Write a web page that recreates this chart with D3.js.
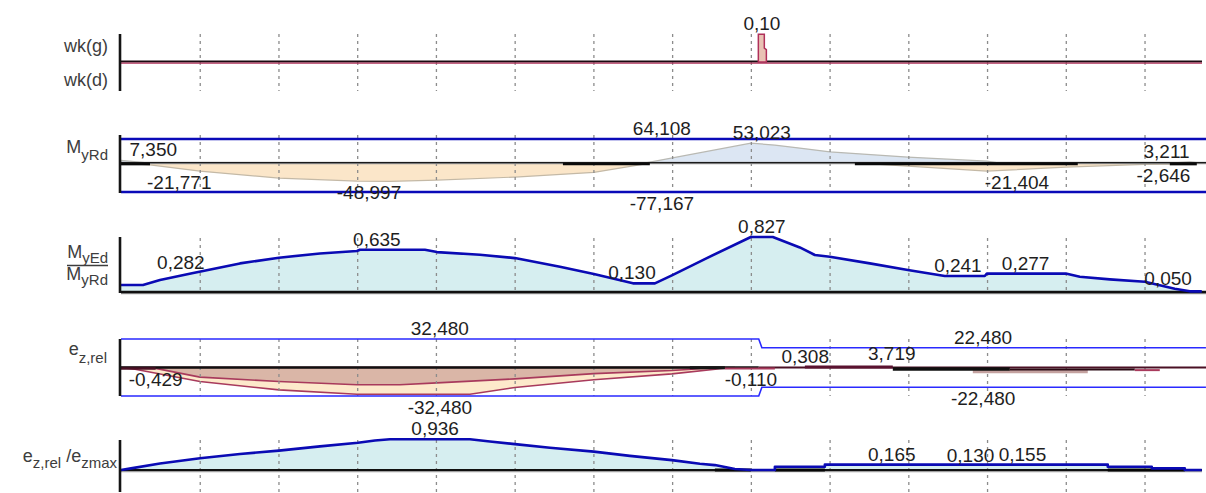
<!DOCTYPE html>
<html>
<head>
<meta charset="utf-8">
<script src="https://cdn.jsdelivr.net/npm/d3@7"></script>
<style>
  html, body { margin: 0; padding: 0; background: #fff; }
  svg { display: block; font-family: "Liberation Sans", Arial, sans-serif; }
</style>
</head>
<body>
<svg id="chart" width="1206" height="493"></svg>
<script>
// ---------- beam stations (m) ----------
const beamLength = 13.73;
const gridStations = d3.range(1, 14);

// ---------- wk(g) / wk(d) ----------
const wkStation = [8.095, 8.095, 8.171, 8.171, 8.197, 8.197];
const wkValue   = [0, 0.10, 0.10, 0.05, 0.045, 0];
const wkLabelStation = [8.14];
const wkLabelValue   = [0.10];

// ---------- MyRd : resistance limits and moment envelope ----------
const myRdPos = 64.108;
const myRdNeg = -77.167;
const mMaxStation = [0, 0.368, 6.65, 8.0, 8.305, 8.622, 9.003, 9.994, 10.997, 11.162, 13.321, 13.575, 13.727];
const mMaxValue   = [7.35, 0, 0, 53.023, 48, 40, 30, 16, 5, 0, 0, 3.211, 0];
const mMinStation = [0, 0.368, 1.003, 2.006, 2.997, 3.416, 4.013, 5.003, 6.006, 6.717, 9.384, 9.994, 10.997, 12.0, 13.003, 13.575, 13.727];
const mMinValue   = [0, -5, -21.771, -40, -48, -48.997, -45.5, -37.4, -25, 0, 0, -8, -21.404, -11, -3.5, -2.646, 0];
const mZeroStart  = [0, 5.613, 9.321, 13.321];
const mZeroEnd    = [0.368, 6.717, 12.152, 13.664];
const mLabelStation = [0.41, 0.74, 3.15, 6.87, 8.14, 6.87, 13.28, 13.24, 11.38];
const mLabelValue   = [7.35, -21.771, -48.997, 64.108, 53.023, -77.167, 3.211, -2.646, -21.404];

// ---------- MyEd / MyRd ----------
const ratioStation = [0, 0.279, 0.495, 0.902, 1.511, 2.006, 2.527, 2.997, 3.035, 3.860, 4.013, 4.559, 5.003, 5.575, 6.006, 6.502, 6.781, 6.997, 7.441, 8.0, 8.279, 8.622, 8.813, 9.003, 9.511, 9.994, 10.463, 10.971, 10.997, 12.0, 12.178, 12.559, 13.003, 13.384, 13.575, 13.727];
const ratioValue   = [0.105, 0.105, 0.18, 0.282, 0.43, 0.516, 0.58, 0.617, 0.635, 0.635, 0.60, 0.56, 0.51, 0.38, 0.27, 0.13, 0.13, 0.25, 0.51, 0.827, 0.827, 0.67, 0.556, 0.53, 0.43, 0.33, 0.241, 0.241, 0.277, 0.277, 0.23, 0.19, 0.155, 0.05, 0.01, 0.01];
const ratioLabelStation = [0.76, 3.25, 6.49, 8.14, 10.63, 11.49, 13.30];
const ratioLabelValue   = [0.282, 0.635, 0.130, 0.827, 0.241, 0.277, 0.050];

// ---------- ez,rel : eccentricity limits and envelope ----------
const ezLimitStation = [0, 8.1, 8.14, 13.78];
const ezLimitValue   = [32.48, 32.48, 22.48, 22.48];
const ezOuterStation = [0, 0.178, 1.003, 2.006, 2.997, 3.416, 4.432, 5.003, 6.006, 6.997, 7.606, 7.797];
const ezOuterValue   = [0, -2, -16, -25.5, -30.5, -30.5, -30.5, -22.8, -14, -7.3, -1.5, 0];
const ezInnerStation = [0, 0.44, 1.003, 2.006, 2.997, 3.543, 4.013, 5.003, 6.006, 6.997, 7.606];
const ezInnerValue   = [0, -1, -11, -16, -19.7, -19.7, -17.5, -13, -7, -3.5, 0];
const ezSegStart = [0, 7.225, 7.67, 8.686, 10.819, 9.803, 11.289, 12.876];
const ezSegEnd   = [0.44, 7.67, 8.305, 9.803, 12.279, 11.289, 12.876, 13.194];
const ezSegValue = [-1, -0.3, -1, 0.6, -4.3, -1.8, -2.2, -3.0];
const ezLabelStation = [4.05, 4.05, 10.95, 10.95, 8.69, 9.79, 0.44, 8.0];
const ezLabelValue   = [32.48, -32.48, 22.48, -22.48, 0.308, 3.719, -0.429, -0.110];

// ---------- ez,rel / ezmax ----------
const ezRatioStation = [0, 0.127, 0.495, 1.003, 1.511, 2.006, 2.527, 3.010, 3.225, 3.416, 4.432, 4.686, 5.003, 5.448, 6.006, 6.463, 6.997, 7.352, 7.543, 7.797, 8.0, 8.305, 8.305, 8.940, 8.940, 12.533, 12.533, 13.092, 13.092, 13.511, 13.511, 13.727];
const ezRatioValue   = [0, 0.05, 0.2, 0.357, 0.49, 0.59, 0.72, 0.83, 0.9, 0.936, 0.936, 0.87, 0.79, 0.68, 0.56, 0.43, 0.30, 0.19, 0.15, 0.03, 0, 0, 0.1, 0.1, 0.165, 0.165, 0.1, 0.1, 0.05, 0.05, 0, 0];
const ezRatioZeroStart = [7.543, 8.305, 12.533];
const ezRatioZeroEnd   = [8.0, 8.94, 13.511];
const ezRatioLabelStation = [3.99, 9.79, 10.79, 11.45];
const ezRatioLabelValue   = [0.936, 0.165, 0.130, 0.155];

// ---------- drawing ----------
const svg = d3.select("#chart");
const W = 1206;
const axisX = 120;
const locale = d3.formatLocale({ decimal: ",", thousands: ".", grouping: [3], currency: ["", ""], minus: "-" });
const f2 = locale.format(".2f");
const f3 = locale.format(".3f");

const x = d3.scaleLinear().domain([0, beamLength]).range([121, 1202]);
const pairs = (s, v) => d3.zip(s, v);

const lineOf = y => d3.line().x(d => x(d[0])).y(d => y(d[1]));
const areaOf = y => d3.area().x(d => x(d[0])).y0(y(0)).y1(d => y(d[1]));

const cText = "#1e1e1e";
const cLabel = "#3d3d3d";

function grid(top, bottom) {
  const g = svg.append("g").attr("transform", `translate(0,${top})`)
    .call(d3.axisBottom(x).tickValues(gridStations).tickSize(bottom - top).tickFormat(""));
  g.select(".domain").remove();
  g.selectAll(".tick line")
    .attr("stroke", "#8c8c8c").attr("stroke-width", 1.3).attr("stroke-dasharray", "3,4");
}

function axisLine(top, bottom) {
  svg.append("line").attr("x1", axisX).attr("x2", axisX).attr("y1", top).attr("y2", bottom)
    .attr("stroke", "#141414").attr("stroke-width", 2.6);
}

function hline(y, x1, x2, color, w) {
  svg.append("line").attr("x1", x1).attr("x2", x2).attr("y1", y).attr("y2", y)
    .attr("stroke", color).attr("stroke-width", w);
}

function valueLabels(stations, values, y, f) {
  svg.append("g").selectAll("text").data(pairs(stations, values)).join("text")
    .attr("x", d => x(d[0]))
    .attr("y", d => d[1] >= 0 ? y(d[1]) - 4 : y(d[1]) + 18)
    .attr("text-anchor", "middle")
    .attr("font-size", 19)
    .attr("fill", cText)
    .text(d => f(d[1]));
}

// thick dark runs lying on a zero line
function zeroRuns(starts, ends, yPos, color, w) {
  svg.append("g").selectAll("line").data(pairs(starts, ends)).join("line")
    .attr("x1", d => x(d[0])).attr("x2", d => x(d[1]))
    .attr("y1", yPos).attr("y2", yPos)
    .attr("stroke", color).attr("stroke-width", w);
}

// ===== panel 1 : wk(g) / wk(d) =====
{
  const y = d3.scaleLinear().domain([0, d3.max(wkValue)]).range([62, 34.3]);
  grid(34, 91);
  hline(61.6, x(0), x(beamLength), "#1a0a10", 2);
  hline(63.1, x(0), x(beamLength), "#b0305a", 1.2);
  svg.append("path").datum(pairs(wkStation, wkValue))
    .attr("d", areaOf(y)).attr("fill", "#e9c2b4").attr("stroke", "#b0305a").attr("stroke-width", 1.5);
  axisLine(34, 91);
  valueLabels(wkLabelStation, wkLabelValue, y, f2);
  svg.append("text").attr("x", 108).attr("y", 52).attr("text-anchor", "end")
    .attr("font-size", 18).attr("fill", cLabel).text("wk(g)");
  svg.append("text").attr("x", 108).attr("y", 86).attr("text-anchor", "end")
    .attr("font-size", 18).attr("fill", cLabel).text("wk(d)");
}

// ===== panel 2 : MyRd =====
{
  const y = d3.scaleLinear().domain([myRdNeg, myRdPos]).range([192, 139]);
  svg.append("path").datum(pairs(mMinStation, mMinValue))
    .attr("d", areaOf(y)).attr("fill", "#fbe6c9").attr("stroke", "#c4b9a6").attr("stroke-width", 1.2);
  svg.append("path").datum(pairs(mMaxStation, mMaxValue))
    .attr("d", areaOf(y)).attr("fill", "#dce6f3").attr("stroke", "#b9b9b3").attr("stroke-width", 1.2);
  grid(135, 192);
  hline(y(0), x(0), W, "#9a9a9a", 2.4);
  hline(y(0) - 0.5, x(0), W, "#1a1a1a", 1.2);
  zeroRuns(mZeroStart, mZeroEnd, y(0) + 1, "#0a0a0a", 2.6);
  hline(y(myRdPos), x(0), W, "#0a0ab8", 2.6);
  hline(y(myRdNeg), x(0), W, "#0a0ab8", 2.6);
  axisLine(135, 193);
  valueLabels(mLabelStation, mLabelValue, y, f3);
  const t = svg.append("text").attr("x", 108).attr("y", 153).attr("text-anchor", "end").attr("fill", cLabel);
  t.append("tspan").attr("font-size", 18).text("M");
  t.append("tspan").attr("font-size", 15).attr("dy", 6.5).text("yRd");
}

// ===== panel 3 : MyEd / MyRd =====
{
  const y = d3.scaleLinear().domain([0, d3.max(ratioValue)]).range([292, 237]);
  svg.append("path").datum(pairs(ratioStation, ratioValue))
    .attr("d", areaOf(y)).attr("fill", "#d6eef0");
  grid(238, 292);
  hline(y(0) + 1.5, x(0), W, "#a0a0a0", 1.5);
  hline(y(0), x(0), W, "#101010", 2.6);
  svg.append("path").datum(pairs(ratioStation, ratioValue))
    .attr("d", lineOf(y)).attr("fill", "none").attr("stroke", "#0a0ab4").attr("stroke-width", 2.6)
    .attr("stroke-linejoin", "round");
  axisLine(237, 293);
  valueLabels(ratioLabelStation, ratioLabelValue, y, f3);
  const t1 = svg.append("text").attr("x", 108).attr("y", 258).attr("text-anchor", "end").attr("fill", cLabel);
  t1.append("tspan").attr("font-size", 18).text("M");
  t1.append("tspan").attr("font-size", 15).attr("dy", 5).text("yEd");
  hline(265.5, 67, 108, cLabel, 1.6);
  const t2 = svg.append("text").attr("x", 108).attr("y", 280).attr("text-anchor", "end").attr("fill", cLabel);
  t2.append("tspan").attr("font-size", 18).text("M");
  t2.append("tspan").attr("font-size", 15).attr("dy", 5).text("yRd");
}

// ===== panel 4 : ez,rel =====
{
  const ezMax = d3.max(ezLimitValue);
  const y = d3.scaleLinear().domain([-ezMax, ezMax]).range([396, 339]);
  svg.append("path").datum(pairs(ezOuterStation, ezOuterValue))
    .attr("d", areaOf(y)).attr("fill", "#fde9cb").attr("stroke", "#a83a5c").attr("stroke-width", 1.6);
  svg.append("path").datum(pairs(ezInnerStation, ezInnerValue))
    .attr("d", areaOf(y)).attr("fill", "#dab6a7").attr("stroke", "#a83a5c").attr("stroke-width", 1.6);
  grid(339, 396);
  hline(y(0), x(0), x(8.1), "#101010", 2.6);
  hline(y(0), x(8.1), W, "#4a1024", 2);
  const segColors = ["#4a1024", "#151515", "#a83a5c", "#5a1230", "#c4a2a0", "#101010", "#2a0a14", "#a83a5c"];
  const segWidths = [2.5, 3, 2, 3, 4, 3.5, 2, 2];
  svg.append("g").selectAll("line").data(d3.range(ezSegStart.length)).join("line")
    .attr("x1", i => x(ezSegStart[i])).attr("x2", i => x(ezSegEnd[i]))
    .attr("y1", i => y(ezSegValue[i])).attr("y2", i => y(ezSegValue[i]))
    .attr("stroke", i => segColors[i]).attr("stroke-width", i => segWidths[i]);
  const lim = pairs(ezLimitStation, ezLimitValue);
  svg.append("path").datum(lim).attr("d", lineOf(y)).attr("fill", "none")
    .attr("stroke", "#2a2aff").attr("stroke-width", 1.6);
  svg.append("path").datum(lim.map(d => [d[0], -d[1]])).attr("d", lineOf(y)).attr("fill", "none")
    .attr("stroke", "#2a2aff").attr("stroke-width", 1.6);
  axisLine(339, 396);
  valueLabels(ezLabelStation, ezLabelValue, y, f3);
  const t = svg.append("text").attr("x", 107).attr("y", 355).attr("text-anchor", "end").attr("fill", cLabel);
  t.append("tspan").attr("font-size", 18).text("e");
  t.append("tspan").attr("font-size", 15).attr("dy", 8).text("z,rel");
}

// ===== panel 5 : ez,rel / ezmax =====
{
  const y = d3.scaleLinear().domain([0, d3.max(ezRatioValue)]).range([470, 439.3]);
  svg.append("path").datum(pairs(ezRatioStation, ezRatioValue))
    .attr("d", areaOf(y)).attr("fill", "#d6eef0");
  grid(440, 492);
  hline(y(0) + 1.5, x(0), x(beamLength), "#a0a0a0", 1.5);
  hline(y(0), x(0), x(beamLength), "#101010", 2.2);
  zeroRuns(ezRatioZeroStart, ezRatioZeroEnd, y(0), "#050505", 3);
  svg.append("path").datum(pairs(ezRatioStation, ezRatioValue))
    .attr("d", lineOf(y)).attr("fill", "none").attr("stroke", "#0a0ab4").attr("stroke-width", 2.6)
    .attr("stroke-linejoin", "round");
  axisLine(440, 492);
  valueLabels(ezRatioLabelStation, ezRatioLabelValue, y, f3);
  const t = svg.append("text").attr("x", 117).attr("y", 462).attr("text-anchor", "end").attr("fill", cLabel);
  t.append("tspan").attr("font-size", 18).text("e");
  t.append("tspan").attr("font-size", 15).attr("dy", 6).text("z,rel");
  t.append("tspan").attr("font-size", 18).attr("dy", -6).text(" /e");
  t.append("tspan").attr("font-size", 15).attr("dy", 6).text("zmax");
}
</script>
</body>
</html>
